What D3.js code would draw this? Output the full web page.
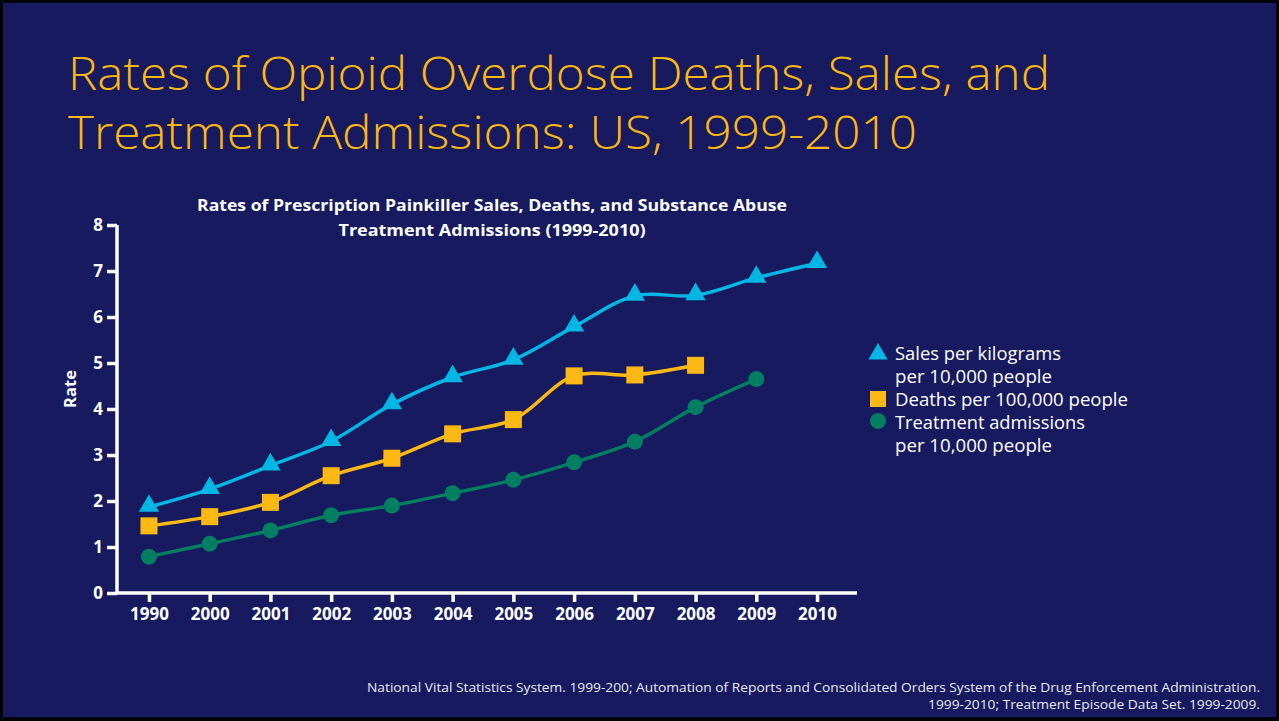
<!DOCTYPE html>
<html>
<head>
<meta charset="utf-8">
<script src="https://cdn.jsdelivr.net/npm/d3@7"></script>
<style>
  html, body { margin: 0; padding: 0; background: #000; }
  svg { display: block; }
</style>
</head>
<body>
<script>
// ---- Data ----
const years = ["1990","2000","2001","2002","2003","2004","2005","2006","2007","2008","2009","2010"];
const salesValues = [1.87, 2.26, 2.77, 3.30, 4.10, 4.69, 5.07, 5.79, 6.46, 6.47, 6.85, 7.17];
const deathValues = [1.46, 1.66, 1.97, 2.55, 2.93, 3.46, 3.77, 4.72, 4.74, 4.95];
const treatmentValues = [0.79, 1.07, 1.36, 1.69, 1.90, 2.17, 2.46, 2.84, 3.29, 4.04, 4.65];
const yTicks = [0, 1, 2, 3, 4, 5, 6, 7, 8];
const seriesNames = ["Sales per kilograms", "per 10,000 people", "Deaths per 100,000 people", "Treatment admissions", "per 10,000 people"];

const W = 1279, H = 721;
const BG = "#171a5e";
const C_SALES = "#00b6e4", C_DEATH = "#fdb813", C_TREAT = "#007e62";

const svg = d3.select("body").append("svg").attr("width", W).attr("height", H);
svg.append("rect").attr("x", 0).attr("y", 0).attr("width", W).attr("height", H).attr("fill", "#000");
svg.append("rect").attr("x", 3).attr("y", 3).attr("width", W - 6).attr("height", H - 7).attr("fill", BG);

// Main title
const title = svg.append("g").attr("fill", "#fdb813")
  .style("font-family", "'Open Sans', sans-serif").style("font-weight", 300).style("font-size", "46px");
title.append("text").attr("x", 68).attr("y", 90).text("Rates of Opioid Overdose Deaths, Sales, and")
  .attr("textLength", 982).attr("lengthAdjust", "spacingAndGlyphs");
title.append("text").attr("x", 68).attr("y", 149).text("Treatment Admissions: US, 1999-2010")
  .attr("textLength", 849).attr("lengthAdjust", "spacingAndGlyphs");

// Chart title
const ct = svg.append("g").attr("fill", "#fff").attr("text-anchor", "middle")
  .style("font-family", "'Open Sans', sans-serif").style("font-weight", 700).style("font-size", "15.5px");
ct.append("text").attr("x", 492).attr("y", 211).text("Rates of Prescription Painkiller Sales, Deaths, and Substance Abuse")
  .attr("textLength", 590).attr("lengthAdjust", "spacingAndGlyphs");
ct.append("text").attr("x", 492).attr("y", 236).text("Treatment Admissions (1999-2010)")
  .attr("textLength", 307).attr("lengthAdjust", "spacingAndGlyphs");

// Scales
const x = d3.scalePoint().domain(years).range([118.6, 847.4]).padding(0.5);
const y = d3.scaleLinear().domain([0, 8]).range([593, 225]);

// Axes
const yAxis = svg.append("g").attr("transform", "translate(117,0)")
  .call(d3.axisLeft(y).tickValues(yTicks).tickSize(10).tickPadding(4).tickFormat(d3.format("d")));
const xAxis = svg.append("g").attr("transform", "translate(0,593)")
  .call(d3.axisBottom(x).tickSize(9).tickPadding(6));
xAxis.select(".domain").attr("d", "M117,0H857");
yAxis.select(".domain").attr("d", "M0,225V593");
[xAxis, yAxis].forEach(a => {
  a.selectAll(".domain, line").attr("stroke", "#fff").attr("stroke-width", 3.5);
  a.selectAll("text").attr("fill", "#fff")
    .style("font-family", "'Open Sans', sans-serif").style("font-weight", 700).style("font-size", "17px");
});
yAxis.selectAll("text").attr("dy", "0.35em");

svg.append("text").attr("transform", "translate(76,389) rotate(-90)")
  .attr("text-anchor", "middle").attr("fill", "#fff")
  .style("font-family", "'Open Sans', sans-serif").style("font-weight", 700).style("font-size", "16.5px")
  .text("Rate");

// Lines
const line = d3.line().x((d, i) => x(years[i])).y(d => y(d)).curve(d3.curveCatmullRom.alpha(0.5));
function drawSeries(vals, color) {
  svg.append("path").datum(vals).attr("d", line).attr("fill", "none")
    .attr("stroke", color).attr("stroke-width", 3.5);
}
drawSeries(salesValues, C_SALES);
drawSeries(deathValues, C_DEATH);
drawSeries(treatmentValues, C_TREAT);

const tri = d3.symbol().type(d3.symbolTriangle).size(180);
svg.append("g").selectAll("path").data(salesValues).join("path")
  .attr("transform", (d, i) => `translate(${x(years[i])},${y(d) - 1})`)
  .attr("d", tri).attr("fill", C_SALES);
svg.append("g").selectAll("rect").data(deathValues).join("rect")
  .attr("x", (d, i) => x(years[i]) - 8.5).attr("y", d => y(d) - 8.5)
  .attr("width", 17).attr("height", 17).attr("fill", C_DEATH);
svg.append("g").selectAll("circle").data(treatmentValues).join("circle")
  .attr("cx", (d, i) => x(years[i])).attr("cy", d => y(d)).attr("r", 8).attr("fill", C_TREAT);

// Legend
const lg = svg.append("g").style("font-family", "'Open Sans', sans-serif").style("font-size", "18px").attr("fill", "#fff");
const lineY = [360, 383, 406, 429, 452];
const lineW = [166, 157, 233, 190, 157];
seriesNames.forEach((t, i) => {
  lg.append("text").attr("x", 895).attr("y", lineY[i]).text(t)
    .attr("textLength", lineW[i]).attr("lengthAdjust", "spacingAndGlyphs");
});
lg.append("path").attr("d", d3.symbol().type(d3.symbolTriangle).size(160)).attr("transform", "translate(878,354)").attr("fill", C_SALES);
lg.append("rect").attr("x", 870).attr("y", 391).attr("width", 16).attr("height", 16).attr("fill", C_DEATH);
lg.append("circle").attr("cx", 878).attr("cy", 421).attr("r", 8).attr("fill", C_TREAT);

// Footnote
const fn = svg.append("g").attr("fill", "#e8e8f0").attr("text-anchor", "end")
  .style("font-family", "'Liberation Sans Narrow', 'Open Sans', sans-serif").style("font-size", "12.5px");
fn.append("text").attr("x", 1260).attr("y", 692)
  .text("National Vital Statistics System. 1999-200; Automation of Reports and Consolidated Orders System of the Drug Enforcement Administration.")
  .attr("textLength", 893).attr("lengthAdjust", "spacingAndGlyphs");
fn.append("text").attr("x", 1260).attr("y", 709)
  .text("1999-2010; Treatment Episode Data Set. 1999-2009.")
  .attr("textLength", 332).attr("lengthAdjust", "spacingAndGlyphs");
</script>
</body>
</html>
